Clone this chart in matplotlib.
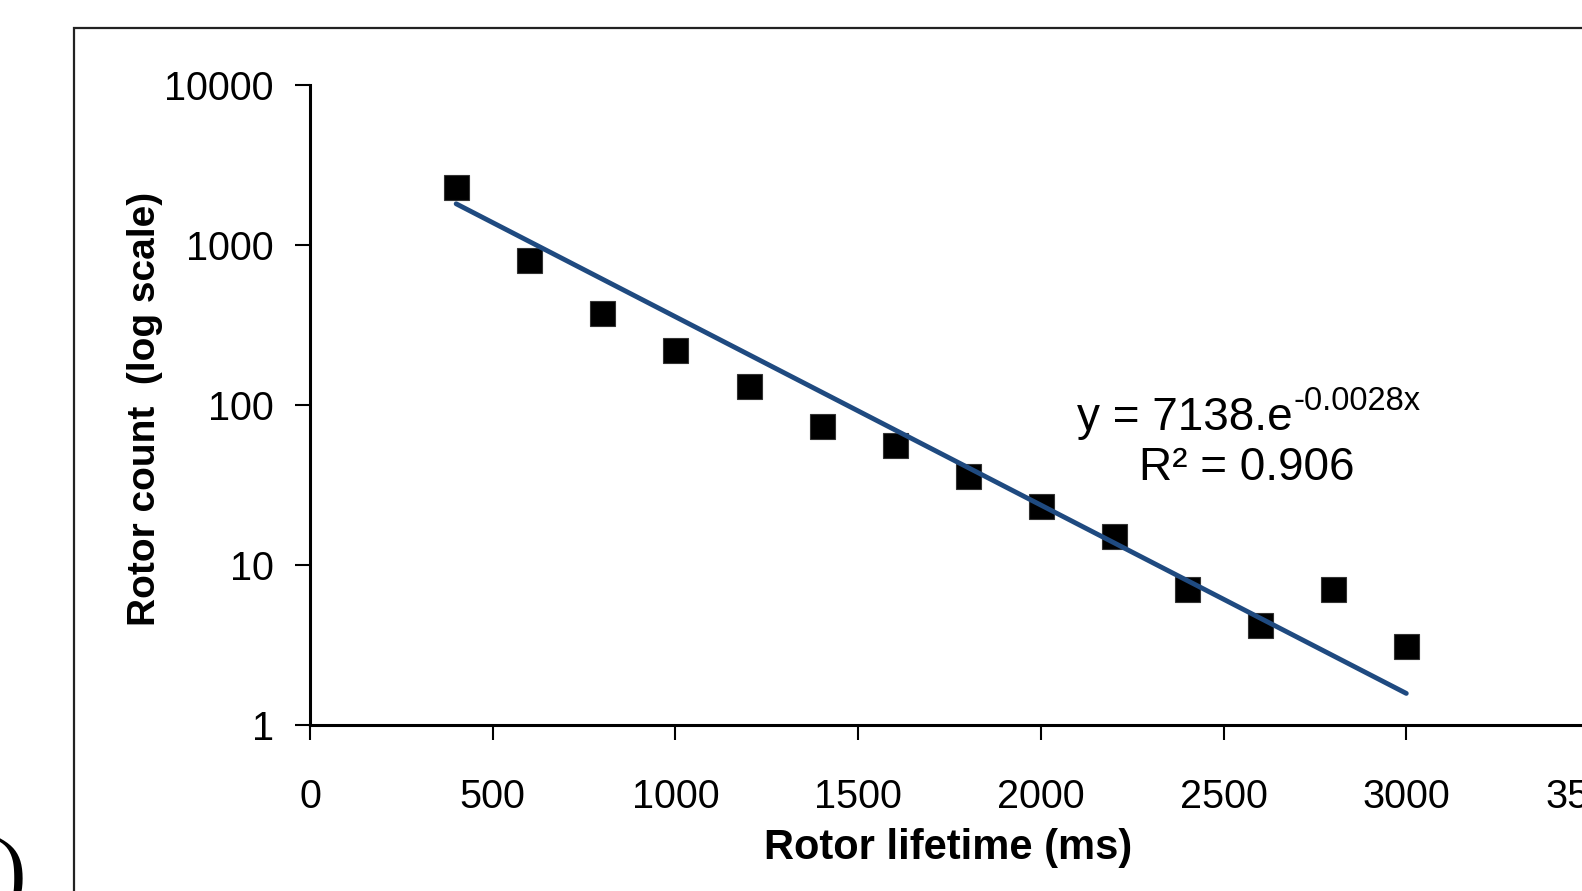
import numpy as np
import matplotlib
matplotlib.use("Agg")
import matplotlib.pyplot as plt
from matplotlib.patches import Rectangle

# ---- data ----
lifetime_ms = [400, 600, 800, 1000, 1200, 1400, 1600, 1800, 2000, 2200, 2400, 2600, 2800, 3000]
rotor_count = [2300, 810, 375, 222, 131, 74, 56, 36, 23.5, 15.2, 7.1, 4.2, 7.1, 3.1]
trend_a = 5350.0      # trend line as drawn
trend_b = 0.00271
trend_x_range = [400, 3000]
x_ticks = [0, 500, 1000, 1500, 2000, 2500, 3000, 3500]
y_ticks = [1, 10, 100, 1000, 10000]
eq_main = "y = 7138.e"
eq_sup = "-0.0028x"
r2_text = "R² = 0.906"

W, H = 1582, 891
fig = plt.figure(figsize=(W / 100, H / 100), dpi=100)
plt.rcParams['font.family'] = ['Liberation Sans', 'DejaVu Sans']

# outer frame (extends beyond figure at right and bottom)
frame_top = 1 - 28 / H
fig.patches.append(Rectangle((74 / W, -0.2), 1.2, frame_top + 0.2,
                             transform=fig.transFigure, fill=False,
                             edgecolor='#222222', linewidth=1.6, zorder=0))

left, right, top, bottom = 310, 1589, 85, 725
ax = fig.add_axes([left / W, 1 - bottom / H, (right - left) / W, (bottom - top) / H])
ax.set_yscale('log')
ax.set_xlim(0, 3500)
ax.set_ylim(1, 10000)

ax.plot(lifetime_ms, rotor_count, linestyle='none', marker='s', markersize=18,
        markerfacecolor='black', markeredgecolor='#333333', markeredgewidth=0.8, zorder=3)

tx = np.linspace(trend_x_range[0], trend_x_range[1], 200)
ax.plot(tx, trend_a * np.exp(-trend_b * tx), color='#1F4A80', linewidth=3.5,
        solid_capstyle='round', zorder=4)

for s in ['top', 'right']:
    ax.spines[s].set_visible(False)
for s in ['left', 'bottom']:
    ax.spines[s].set_linewidth(2.2)
    ax.spines[s].set_color('black')

ax.set_xticks(x_ticks)
ax.set_xticklabels([str(v) for v in x_ticks])
ax.set_yticks(y_ticks)
ax.set_yticklabels([str(v) for v in y_ticks])
ax.yaxis.set_minor_locator(matplotlib.ticker.NullLocator())
ax.tick_params(axis='x', direction='out', length=11, width=1.5, labelsize=28.5, pad=27)
ax.tick_params(axis='y', direction='out', length=11, width=1.5, labelsize=28.5, pad=15)

ax.set_xlabel('Rotor lifetime (ms)', fontsize=30, fontweight='bold')
ax.set_ylabel('Rotor count  (log scale)', fontsize=28, fontweight='bold')
ax.xaxis.set_label_coords((948 - left) / (right - left), -(828 - bottom) / (bottom - top))
ax.yaxis.set_label_coords(-(left - 163) / (right - left), (bottom - 409) / (bottom - top))

# equation text
t1 = fig.text(1077 / W, 1 - 430 / H, eq_main, fontsize=33, ha='left', va='baseline')
fig.canvas.draw()
bb = t1.get_window_extent()
fig.text(bb.x1 / W + 1 / W, 1 - 410 / H, eq_sup, fontsize=23.5, ha='left', va='baseline')
fig.text(1247 / W, 1 - 480 / H, r2_text, fontsize=33, ha='center', va='baseline')

# cut-off panel label at bottom left
fig.text(-4 / W, 1 - 900 / H, ')', fontsize=64, family=['Liberation Serif', 'DejaVu Serif'],
         ha='left', va='baseline')

fig.savefig('out.png', dpi=100)
